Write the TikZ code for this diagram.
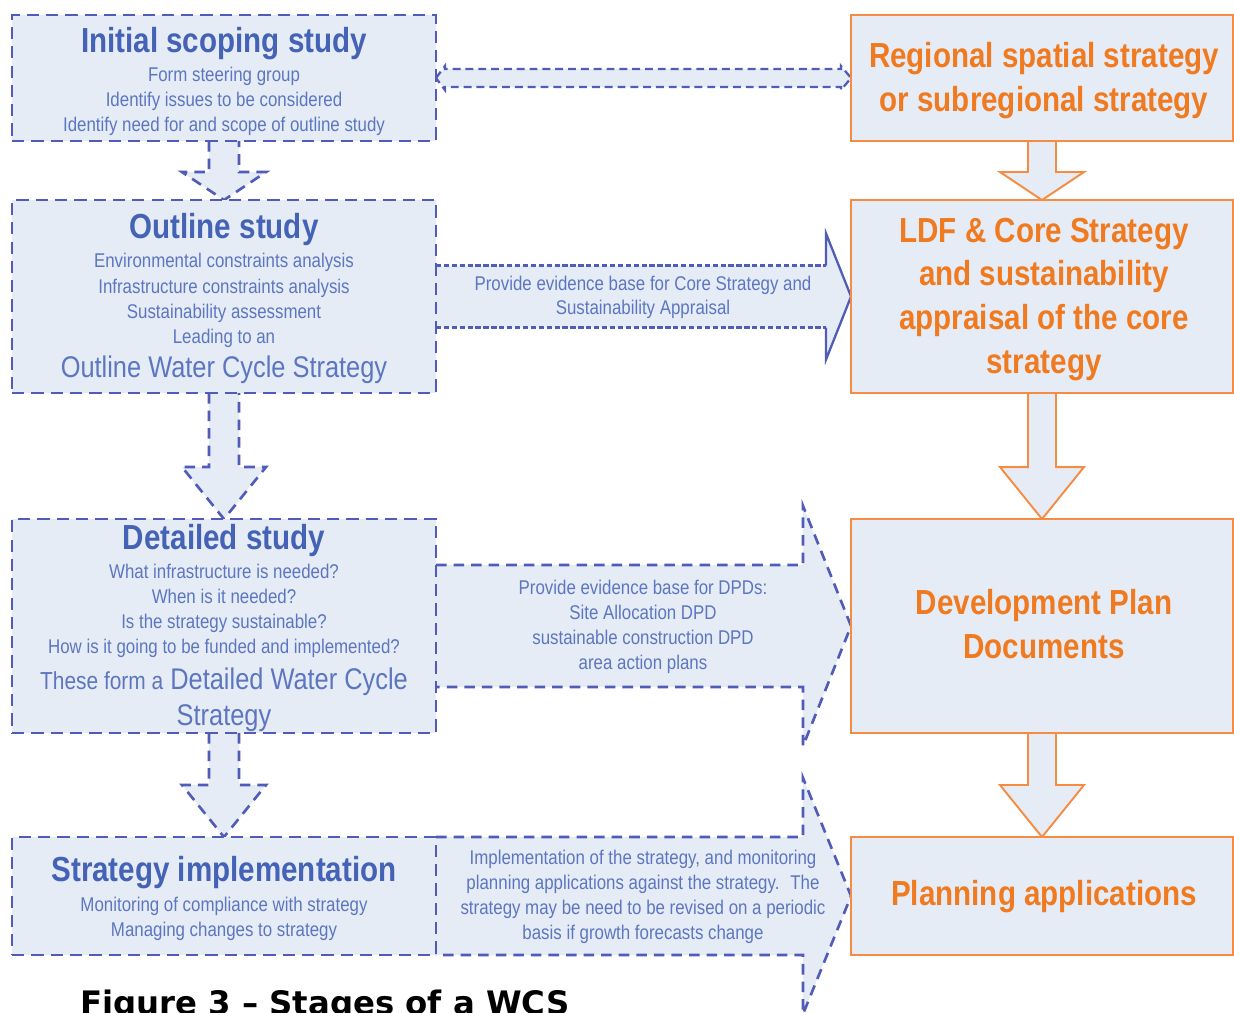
\documentclass[tikz,border=0pt]{standalone}
\usepackage{fontspec}
\setmainfont{Liberation Sans}[FakeStretch=0.85]
\newfontfamily\capfont{DejaVu Sans}
\usetikzlibrary{calc,backgrounds}

\definecolor{boxblue}{RGB}{80,92,184}
\definecolor{titleblue}{RGB}{68,98,182}
\definecolor{textblue}{RGB}{92,118,192}
\definecolor{paleblue}{RGB}{230,236,246}
\definecolor{boxorange}{RGB}{246,140,66}
\definecolor{textorange}{RGB}{240,122,32}

\begin{document}
\begin{tikzpicture}[x=0.02cm, y=-0.02cm,
    every node/.style={inner sep=0pt, outer sep=0pt},
    bluebox/.style={draw=boxblue, fill=paleblue, line width=1.6pt, dash pattern=on 7pt off 4pt, minimum width=8.48cm},
    orangebox/.style={draw=boxorange, fill=paleblue, line width=1.3pt, minimum width=7.64cm},
    bluearrow/.style={draw=boxblue, fill=paleblue, line width=1.5pt, dash pattern=on 6pt off 4pt},
    thinarrow/.style={draw=boxblue, fill=paleblue, line width=1.3pt, dash pattern=on 4.5pt off 2.8pt},
    orangearrow/.style={draw=boxorange, fill=paleblue, line width=1.1pt},
    ttl/.style={anchor=base, text=titleblue, font=\fontsize{19.8}{22}\selectfont\bfseries},
    sml/.style={anchor=base, text=textblue, font=\fontsize{11.3}{13}\selectfont},
    big/.style={anchor=base, text=textblue, font=\fontsize{17}{20}\selectfont},
    otxt/.style={anchor=base, text=textorange, font=\fontsize{19.8}{22}\selectfont\bfseries}]
    \clip (0,0) rectangle (1234,1012);

    % stage boxes
    \node[bluebox, minimum height=2.52cm] (scope) at (224,78) {};
    \node[bluebox, minimum height=3.86cm] (outline) at (224,296.5) {};
    \node[bluebox, minimum height=4.28cm] (detail) at (224,626) {};
    \node[bluebox, minimum height=2.36cm] (impl) at (224,896) {};
    \node[orangebox, minimum height=2.52cm] (rss) at (1042,78) {};
    \node[orangebox, minimum height=3.86cm] (ldf) at (1042,296.5) {};
    \node[orangebox, minimum height=4.28cm] (dpd) at (1042,626) {};
    \node[orangebox, minimum height=2.36cm] (plan) at (1042,896) {};

    \begin{scope}[on background layer]
        \fill[white] (0,0) rectangle (1234,1012);
        % block arrows down each column
        \foreach \a/\b/\h in {scope/outline/28,outline/detail/52,detail/impl/52}
            \draw[bluearrow] ($(\a.south)+(-15,0)$) -- ($(\b.north)+(-15,-\h)$) -- ++(-27,0) -- (\b.north)
                -- ($(\b.north)+(42,-\h)$) -- ++(-27,0) -- ($(\a.south)+(15,0)$);
        \foreach \a/\b/\h in {rss/ldf/28,ldf/dpd/52,dpd/plan/52}
            \draw[orangearrow] ($(\a.south)+(-14,0)$) -- ($(\b.north)+(-14,-\h)$) -- ++(-28,0) -- (\b.north)
                -- ($(\b.north)+(42,-\h)$) -- ++(-28,0) -- ($(\a.south)+(14,0)$);

        % arrows across to the plan documents
        \draw[thinarrow] (scope.east) -- ++(9,-12) -- ++(0,3) -- ($(rss.west)+(-10,-9)$) -- ++(0,-3) -- (rss.west)
            -- ++(-10,12) -- ++(0,-3) -- ($(scope.east)+(9,9)$) -- ++(0,3) -- cycle;
        \fill[paleblue] ($(outline.east)+(0,-31)$) -- ($(ldf.west)+(-25,-31)$) -- ++(0,-32) -- (ldf.west)
            -- ($(ldf.west)+(-25,63)$) -- ++(0,-32) -- ($(outline.east)+(0,31)$) -- cycle;
        \draw[boxblue, line width=1.3pt, dash pattern=on 3pt off 1.5pt] ($(outline.east)+(0,-31)$) -- ($(ldf.west)+(-25,-31)$)
            ($(outline.east)+(0,31)$) -- ($(ldf.west)+(-25,31)$);
        \draw[boxblue, line width=1.3pt] ($(ldf.west)+(-25,-31)$) -- ++(0,-32) -- (ldf.west) -- ($(ldf.west)+(-25,63)$) -- ++(0,-32);
        \draw[bluearrow] ($(detail.east)+(0,-61)$) -- ($(dpd.west)+(-48,-61)$) -- ++(0,-59) -- (dpd.west)
            -- ($(dpd.west)+(-48,120)$) -- ++(0,-59) -- ($(detail.east)+(0,61)$);
        \draw[bluearrow] (impl.north east) -- ($(plan.west)+(-48,-59)$) -- ++(0,-59) -- (plan.west)
            -- ($(plan.west)+(-48,118)$) -- ++(0,-59) -- (impl.south east);
    \end{scope}

    % left column text
    \node[ttl] (scope-t) at (224,52) {Initial scoping study};
    \foreach \y/\t [count=\i] in {81/Form steering group,106/Identify issues to be considered,131/Identify need for and scope of outline study}
        \node[sml] (scope-\i) at (224,\y) {\t};
    \node[ttl] (outline-t) at (224,238) {Outline study};
    \foreach \y/\t [count=\i] in {267/Environmental constraints analysis,293/Infrastructure constraints analysis,318/Sustainability assessment,343/Leading to an}
        \node[sml] (outline-\i) at (224,\y) {\t};
    \node[big] (outline-s) at (224,377) {Outline Water Cycle Strategy};
    \node[ttl] (detail-t) at (224,549) {Detailed study};
    \foreach \y/\t [count=\i] in {578/What infrastructure is needed?,603/When is it needed?,628/Is the strategy sustainable?,653/How is it going to be funded and implemented?}
        \node[sml] (detail-\i) at (224,\y) {\t};
    \node[big] (detail-s) at (224,689) {{\fontsize{14}{16}\selectfont These form a} Detailed Water Cycle};
    \node[big] (detail-s2) at (224,725) {Strategy};
    \node[ttl] (impl-t) at (224,881) {Strategy implementation};
    \foreach \y/\t [count=\i] in {911/Monitoring of compliance with strategy,936/Managing changes to strategy}
        \node[sml] (impl-\i) at (224,\y) {\t};

    % arrow text
    \foreach \y/\t [count=\i] in {290/Provide evidence base for Core Strategy and,314/Sustainability Appraisal}
        \node[sml] (cs-\i) at (643,\y) {\t};
    \foreach \y/\t [count=\i] in {594/Provide evidence base for DPDs:,619/Site Allocation DPD,644/sustainable construction DPD,669/area action plans}
        \node[sml] (dp-\i) at (643,\y) {\t};
    \foreach \y/\t [count=\i] in {864/{Implementation of the strategy, and monitoring},889/planning applications against the strategy.~ The,914/strategy may be need to be revised on a periodic,939/basis if growth forecasts change}
        \node[sml] (mon-\i) at (643,\y) {\t};

    % right column text
    \foreach \y/\t [count=\i] in {67/Regional spatial strategy,111/or subregional strategy}
        \node[otxt] (rss-\i) at (1044,\y) {\t};
    \foreach \y/\t [count=\i] in {242/LDF \& Core Strategy,285/and sustainability,329/appraisal of the core,373/strategy}
        \node[otxt] (ldf-\i) at (1044,\y) {\t};
    \foreach \y/\t [count=\i] in {614/Development Plan,658/Documents}
        \node[otxt] (dpd-\i) at (1044,\y) {\t};
    \node[otxt] (plan-1) at (1044,905) {Planning applications};

    \node[anchor=base west, font={\capfont\bfseries\fontsize{18.4}{22}\selectfont}] (caption) at (80,1014) {Figure 3 – Stages of a WCS};
\end{tikzpicture}
\end{document}
